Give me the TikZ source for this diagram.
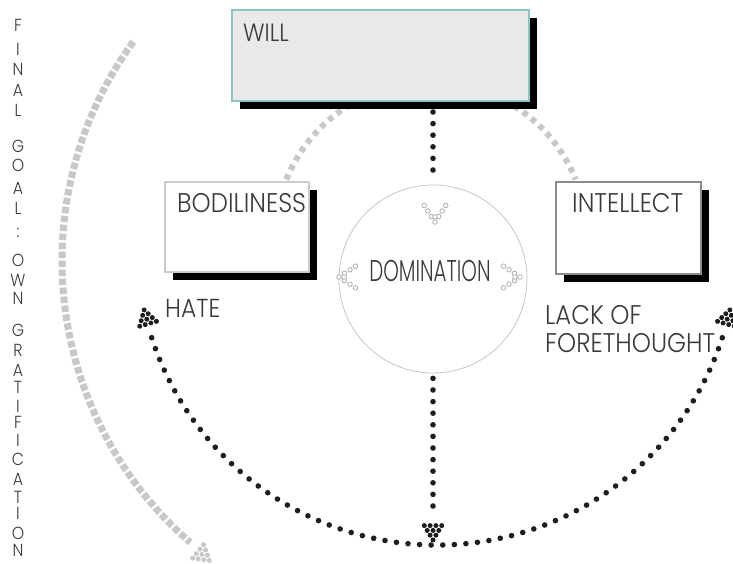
\documentclass[tikz,border=0pt]{standalone}
\usepackage{fontspec}
\setmainfont{Poppins}[UprightFont=* Light, FakeStretch=0.9]
\newfontfamily\narrowfont{Poppins}[UprightFont=* Light, FakeStretch=0.66]
\usetikzlibrary{shadows}
\definecolor{ink}{HTML}{3A3A3A}
\definecolor{teal}{HTML}{8CC4C4}
\definecolor{willfill}{HTML}{E9E9E9}
\definecolor{lightframe}{HTML}{CCCCCC}
\definecolor{midframe}{HTML}{8C8C8C}
\definecolor{pathgray}{HTML}{C8C8C8}
\definecolor{dotink}{HTML}{1E1E1E}
\tikzset{
  boxshadow/.style={drop shadow={shadow xshift=7.5pt, shadow yshift=-8.5pt, fill=black, opacity=1}},
  facultybox/.style={rectangle, inner sep=0pt, fill=white, line width=2.2pt, boxshadow},
  lbl/.style={inner sep=0pt, text=ink, font=\fontsize{27}{32}\selectfont},
  vletter/.style={inner sep=0pt, text=ink, anchor=base, font=\fontsize{17.5}{21}\selectfont},
  blackdots/.style={draw=dotink, line width=5.6pt, line cap=round, dash pattern=on 0pt off 11.6pt},
  graysquares/.style={draw=pathgray, line width=7pt, dash pattern=on 6.5pt off 2.5pt},
  graydashes/.style={draw=pathgray, line width=6pt, dash pattern=on 5.5pt off 5pt},
  pics/dothead/.style={code={
    \foreach \k in {0,...,3}{
      \foreach \j in {0,...,\k}{
        \fill[#1] ({-\k*4.8},{(\j-\k/2)*5.8}) circle[radius=2.5pt];
      }
    }
  }},
  pics/chevron/.style={code={
    \foreach \p in {(0,0),(-5.5,3.6),(-11,7.2),(-16.5,10.8),(-5.5,-3.6),(-11,-7.2),(-16.5,-10.8),(-5,0)}
      \draw[gray!70, line width=0.7pt, fill=white] \p circle[radius=2.3pt];
  }},
}
\begin{document}
\begin{tikzpicture}[x=1pt, y=1pt]
\useasboundingbox (0,0) rectangle (733,564);

% long outer arc on the left
\coordinate (gc) at (435,303);
\draw[graysquares] ([shift={(144:373pt)}]gc) arc[start angle=144, end angle=229, radius=373pt];
\pic[rotate=-39] at ([shift={(233:375pt)}]gc) {dothead=pathgray};

% arc joining the will to the two faculties
\coordinate (tc) at (431,326);
\draw[graydashes] ([shift={(158:156pt)}]tc) arc[start angle=158, end angle=22, radius=156pt];

% lower dotted arc with heads at both ends
\coordinate (bc) at (437,319);
\draw[blackdots] ([shift={(198:300pt)}]bc) arc[start angle=198, end angle=342, radius=300pt];
\pic[rotate=106] at ([shift={(192.5:300pt)}]bc) {dothead=dotink};
\pic[rotate=74] at ([shift={(347.5:300pt)}]bc) {dothead=dotink};

% boxes
\node[facultybox, draw=teal, fill=willfill, minimum width=297pt, minimum height=91pt, anchor=south west] (will) at (231,462) {};
\node[facultybox, draw=lightframe, minimum width=144pt, minimum height=90pt, anchor=south west] (body) at (164,291) {};
\node[facultybox, draw=midframe, minimum width=145pt, minimum height=92pt, anchor=south west] (intel) at (555,289) {};

% central circle
\node[circle, draw=gray!45, line width=0.8pt, fill=white, minimum size=188pt, inner sep=0pt] (dom) at (433,285) {};

% box and circle texts
\node[lbl, anchor=base west, font=\fontsize{25}{30}\selectfont] (willtxt) at (243,522) {WILL};
\node[lbl, anchor=base west] (bodytxt) at (177,351) {BODILINESS};
\node[lbl, anchor=base west] (inteltxt) at (572,351) {INTELLECT};
\node[lbl, anchor=base, font=\narrowfont\fontsize{30}{35}\selectfont] (domtxt) at (430,282) {DOMINATION};
\node[lbl, anchor=base west, font=\fontsize{26}{31}\selectfont] (hate) at (165,246) {HATE};
\node[lbl, anchor=base west] (lack) at (545,239) {LACK OF};
\node[lbl, anchor=base west] (fore) at (545,211) {FORETHOUGHT};

% small hollow chevrons inside the circle
\pic[rotate=-90] at (435,342) {chevron};
\pic[rotate=180] at (339,287) {chevron};
\pic at (520,287) {chevron};

% dotted connectors through the circle
\coordinate (willfoot) at (will.south -| dom.north);
\draw[blackdots] ([yshift=-10pt]willfoot) -- ([yshift=5pt]dom.north);
\coordinate (droptip) at (dom.south |- 0,24);
\draw[blackdots] ([yshift=-5pt]dom.south) -- ([yshift=25pt]droptip);
\pic[rotate=-90] at (droptip) {dothead=dotink};

% vertical caption
\foreach \ch/\yy [count=\n] in {F/32,I/56,N/75.5,A/96.5,L/117,G/152.5,O/172,A/194.5,L/214.5,:/238,O/267,W/287,N/304.5,G/337,R/357,A/377,T/394,I/413,F/429,I/447,C/466,A/486,T/504,I/520,O/540,N/557}
  \node[vletter] (cap\n) at (18,564-\yy) {\ch};
\end{tikzpicture}
\end{document}
